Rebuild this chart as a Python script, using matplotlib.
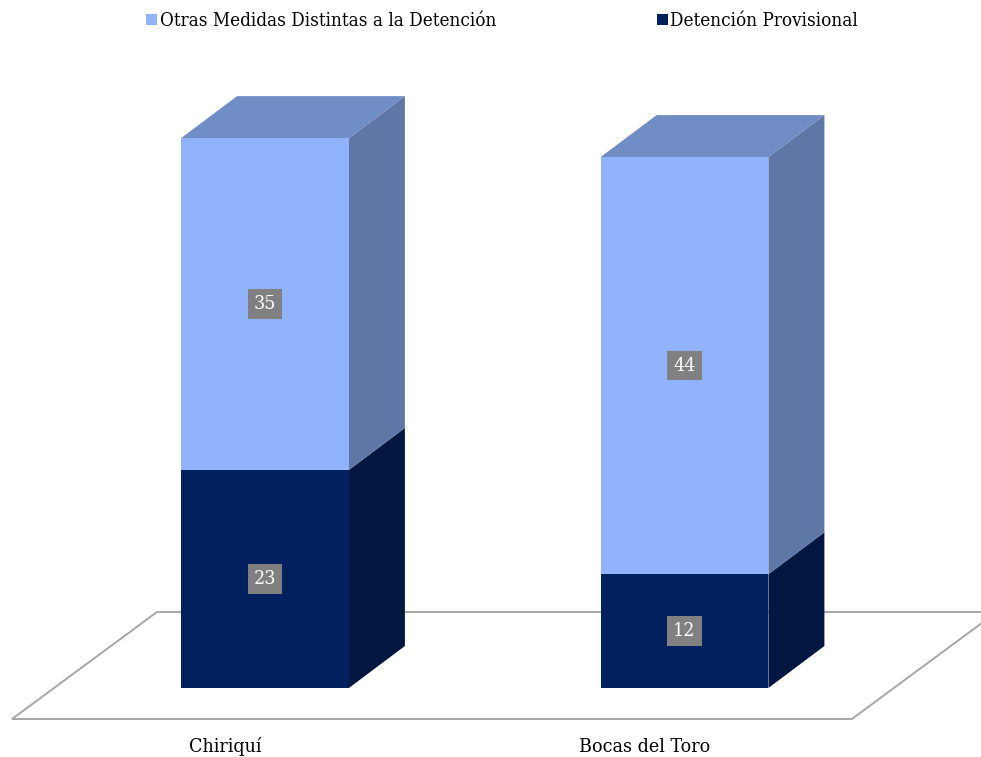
import matplotlib
matplotlib.use("Agg")
import matplotlib.pyplot as plt
from matplotlib.patches import Polygon, Patch
from matplotlib import font_manager

categories = ["Chiriquí", "Bocas del Toro"]
detencion = [23, 12]
otras = [35, 44]
series_names = ["Otras Medidas Distintas a la Detención", "Detención Provisional"]

col_light = "#91B3FE"
col_light_top = "#718DC6"
col_light_side = "#5F77A7"
col_dark = "#00205E"
col_dark_top = "#001A4E"
col_dark_side = "#011640"

names = {f.name for f in font_manager.fontManager.ttflist}
if 'DejaVu Serif Condensed' in names:
    fam = ['DejaVu Serif Condensed']
    stretch = 'normal'
else:
    fam = ['DejaVu Serif']
    stretch = 'condensed'
plt.rcParams['font.family'] = fam
plt.rcParams['font.stretch'] = stretch
fs = 14

fig = plt.figure(figsize=(9.81, 7.57), dpi=100)
ax = fig.add_axes([0, 0, 1, 1])
ax.set_xlim(-0.6317, 1.7068)
ax.set_ylim(-7.278, 72.57)
ax.axis('off')

width = 0.4
dx = 0.1335   # depth offset in category units
dy = 4.43     # depth offset in value units

# floor
fx0, fx1 = -0.603, 1.399
fdx, fy0, fy1 = 0.3455, -3.27, 8.02
floor = Polygon([(fx0, fy0), (fx1, fy0), (fx1 + fdx, fy1), (fx0 + fdx, fy1)],
                closed=True, facecolor='white', edgecolor='#A6A6A6', lw=1.4, zorder=1)
ax.add_patch(floor)

xs = list(range(len(categories)))

def draw_box(x, bottom, h, front, top, side, z, draw_top):
    l, r = x - width / 2, x + width / 2
    t = bottom + h
    ax.bar(x, h, width=width, bottom=bottom, color=front, zorder=z, linewidth=0)
    ax.add_patch(Polygon([(r, bottom), (r + dx, bottom + dy), (r + dx, t + dy), (r, t)],
                         closed=True, facecolor=side, edgecolor='none', zorder=z - 0.5))
    if draw_top:
        ax.add_patch(Polygon([(l, t), (r, t), (r + dx, t + dy), (l + dx, t + dy)],
                             closed=True, facecolor=top, edgecolor='none', zorder=z - 0.5))

for i, x in enumerate(xs):
    draw_box(x, 0, detencion[i], col_dark, col_dark_top, col_dark_side, 3, False)
    draw_box(x, detencion[i], otras[i], col_light, col_light_top, col_light_side, 5, True)
    for b, h in [(0, detencion[i]), (detencion[i], otras[i])]:
        ax.text(x, b + h / 2, str(h), ha='center', va='center', color='white', fontsize=fs,
                zorder=7, bbox=dict(boxstyle='square,pad=0.3', facecolor='#808080', edgecolor='none'))
    ax.text(x - 0.095, -6.22, categories[i], ha='center', va='center', fontsize=fs, color='black')

handles = [Patch(facecolor=col_light, edgecolor='none'), Patch(facecolor=col_dark, edgecolor='none')]
fig.legend(handles, series_names, loc='center', bbox_to_anchor=(0.512, 0.972), ncol=2,
           frameon=False, fontsize=13.5, handlelength=0.55, handleheight=0.55, handletextpad=0.15,
           columnspacing=8.6)

fig.savefig("out.png", dpi=100)
